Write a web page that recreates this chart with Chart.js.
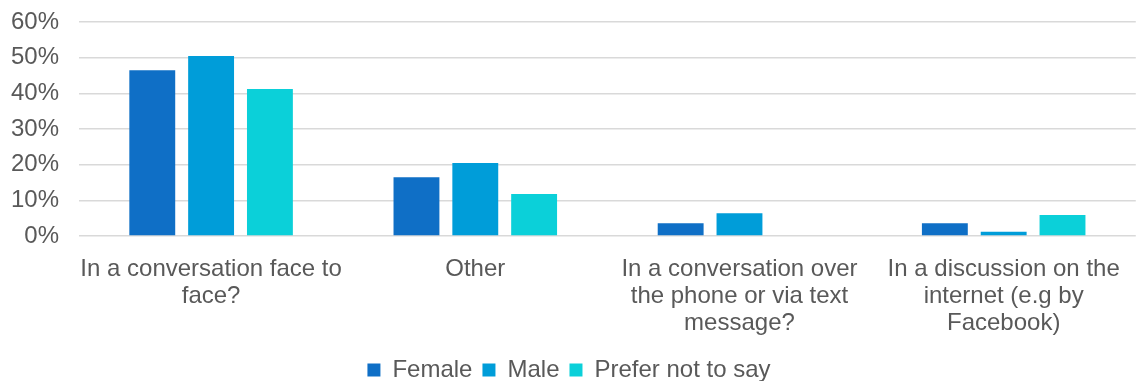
<!DOCTYPE html>
<html>
<head>
<meta charset="utf-8">
<script src="https://cdn.jsdelivr.net/npm/chart.js@4"></script>
<style>
  html, body { margin: 0; padding: 0; background: #fff; }
  #wrap { width: 1140px; height: 381px; }
</style>
</head>
<body>
<div id="wrap"><canvas id="barChart"></canvas></div>
<script>
// categories (wrapped the way the original shows them)
var categories = [
  ["In a conversation face to", "face?"],
  ["Other"],
  ["In a conversation over", "the phone or via text", "message?"],
  ["In a discussion on the", "internet (e.g by", "Facebook)"]
];
var female = [46.5, 16.5, 3.6, 3.6];
var male = [50.5, 20.5, 6.4, 1.2];
var preferNot = [41.2, 11.8, 0, 5.9];
var yTicks = [0, 10, 20, 30, 40, 50, 60];

var textColor = '#595959';
var fontFamily = "'Liberation Sans', Arial, sans-serif";

var ctx = document.getElementById("barChart").getContext('2d');
var barChart = new Chart(ctx, {
  type: 'bar',
  data: {
    labels: categories,
    datasets: [{
      label: 'Female',
      data: female,
      backgroundColor: '#0f6fc6'
    }, {
      label: 'Male',
      data: male,
      backgroundColor: '#009dd9'
    }, {
      label: 'Prefer not to say',
      data: preferNot,
      backgroundColor: '#0bd0d9'
    }]
  },
  options: {
    responsive: true,
    maintainAspectRatio: false,
    animation: false,
    layout: {
      padding: { left: 0, right: 2, top: 22, bottom: -11 }
    },
    datasets: {
      bar: {
        categoryPercentage: 0.668,
        barPercentage: 0.78
      }
    },
    scales: {
      x: {
        grid: { display: false, drawTicks: false },
        border: { display: false },
        afterFit: function(axis) { axis.height = 112; },
        ticks: {
          color: textColor,
          font: { family: fontFamily, size: 24, lineHeight: 1.125 },
          padding: 20,
          maxRotation: 0,
          autoSkip: false
        }
      },
      y: {
        min: 0,
        max: 60,
        afterBuildTicks: function(axis) {
          axis.ticks = yTicks.map(function(v) { return { value: v }; });
        },
        afterFit: function(axis) {
          axis.width = 79;
          axis.paddingTop = 0;
          axis.paddingBottom = 0;
        },
        grid: { color: '#d9d9d9', lineWidth: 1.5, drawTicks: false },
        border: { display: false },
        ticks: {
          color: textColor,
          font: { family: fontFamily, size: 24 },
          padding: 20,
          callback: function(v) { return v + '%'; }
        }
      }
    },
    plugins: {
      legend: {
        position: 'bottom',
        labels: {
          color: textColor,
          font: { family: fontFamily, size: 24 },
          boxWidth: 13,
          boxHeight: 13,
          padding: 10
        }
      },
      tooltip: { enabled: false }
    }
  }
});
</script>
</body>
</html>
